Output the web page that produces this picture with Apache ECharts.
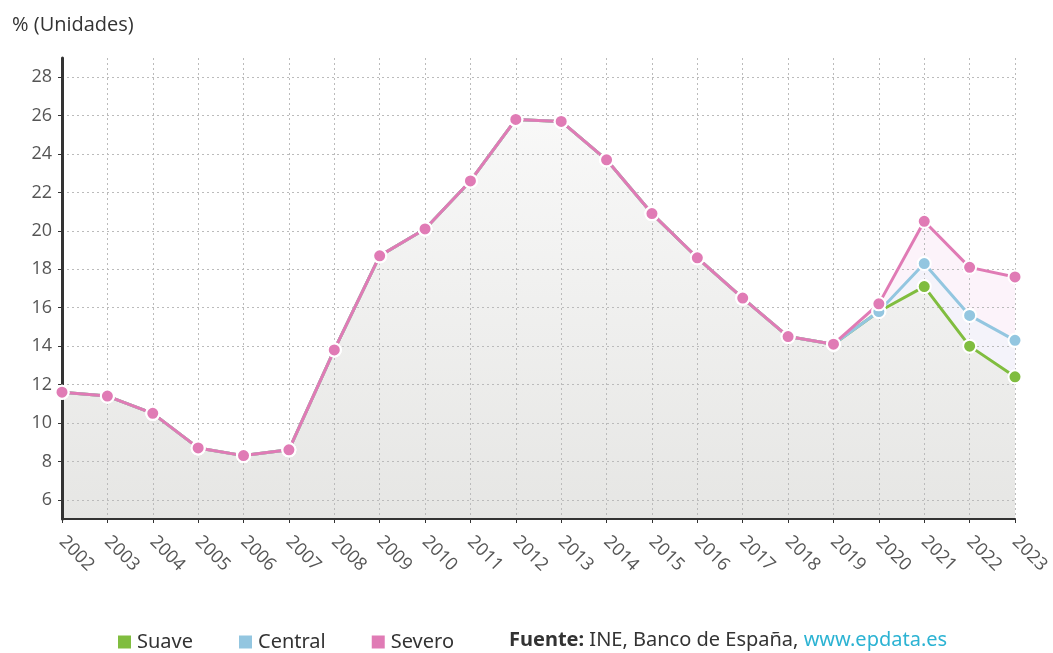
<!DOCTYPE html>
<html>
<head>
<meta charset="utf-8">
<script src="https://cdn.jsdelivr.net/npm/echarts@6/dist/echarts.min.js"></script>
<style>
html,body{margin:0;padding:0;background:#fff;}
#container{width:1053px;height:653px;}
</style>
</head>
<body>
<div id="container"></div>
<script>
var years = ['2002','2003','2004','2005','2006','2007','2008','2009','2010','2011','2012','2013','2014','2015','2016','2017','2018','2019','2020','2021','2022','2023'];
var suave = [11.6,11.4,10.5,8.7,8.3,8.6,13.8,18.7,20.1,22.6,25.8,25.7,23.7,20.9,18.6,16.5,14.5,14.1,15.8,17.1,14.0,12.4];
var central = [11.6,11.4,10.5,8.7,8.3,8.6,13.8,18.7,20.1,22.6,25.8,25.7,23.7,20.9,18.6,16.5,14.5,14.1,15.8,18.3,15.6,14.3];
var severo = [11.6,11.4,10.5,8.7,8.3,8.6,13.8,18.7,20.1,22.6,25.8,25.7,23.7,20.9,18.6,16.5,14.5,14.1,16.2,20.5,18.1,17.6];
var yTicks = [6,8,10,12,14,16,18,20,22,24,26,28];

var myChart = echarts.init(document.getElementById('container'));
var font = '"Open Sans", "Noto Sans", sans-serif';
var narrow = '"Liberation Sans Narrow", "Noto Sans", sans-serif';

// lineas (sin area)
function serie(name, data, color) {
	return {
		name: name,
		type: 'line',
		z: 3,
		data: data,
		symbol: 'circle',
		symbolSize: 13,
		lineStyle: { color: color, width: 3 },
		itemStyle: { color: color, borderColor: '#fff', borderWidth: 2 },
		emphasis: { disabled: true }
	};
}
// areas por debajo de la rejilla
function area(name, data, fill) {
	return {
		name: name,
		type: 'line',
		z: 1,
		data: data,
		symbol: 'none',
		silent: true,
		lineStyle: { width: 0 },
		areaStyle: { color: fill, opacity: 1 },
		emphasis: { disabled: true }
	};
}

var option = {
	animation: false,
	grid: { left: 62, right: 38, top: 58, bottom: 134, containLabel: false },
	legend: {
		left: 111,
		top: 627,
		itemWidth: 15,
		itemHeight: 15,
		itemGap: 44,
		icon: 'rect',
		textStyle: { fontSize: 20, color: '#333', fontFamily: narrow },
		data: ['Suave', 'Central', 'Severo']
	},
	graphic: [
		{
			type: 'text', left: 12, top: 15,
			style: { text: '% (Unidades)', fontSize: 20, fill: '#333', fontFamily: font }
		},
		{
			type: 'text', left: 509, top: 630,
			style: {
				text: '{b|Fuente:} INE, Banco de España, {l|www.epdata.es}',
				fontSize: 20, fill: '#333', fontFamily: narrow,
				rich: {
					b: { fontWeight: 'bold', fontSize: 20, fill: '#333', fontFamily: narrow },
					l: { fontSize: 20, fill: '#2cb3d3', fontFamily: narrow }
				}
			}
		}
	],
	xAxis: {
		type: 'category',
		z: 2,
		data: years,
		boundaryGap: false,
		axisLine: { lineStyle: { color: '#333', width: 2 } },
		axisTick: { show: true, length: 4, lineStyle: { color: '#333' } },
		axisLabel: { rotate: -45, fontSize: 18, color: '#555', fontFamily: font, margin: 20 },
		splitLine: { show: true, lineStyle: { color: '#bbb', type: [2, 3], width: 1 } }
	},
	yAxis: {
		type: 'value',
		z: 2,
		min: 5,
		max: 29,
		axisLine: { show: true, lineStyle: { color: '#333', width: 3 } },
		axisTick: { show: true, length: 4, customValues: yTicks, lineStyle: { color: '#333' } },
		axisLabel: { customValues: yTicks, fontSize: 18, color: '#555', fontFamily: font, margin: 10 },
		splitLine: { show: true, lineStyle: { color: '#bbb', type: [2, 3], width: 1 } }
	},
	series: [
		area('SeveroArea', severo, '#fcf3fa'),
		area('CentralArea', central, '#f4f3fa'),
		area('SuaveArea', suave, new echarts.graphic.LinearGradient(0, 58, 0, 519, [
			{ offset: 0, color: '#fbfbfb' },
			{ offset: 1, color: '#e6e6e4' }
		], true)),
		serie('Suave', suave, '#80bd3f'),
		serie('Central', central, '#93c6e0'),
		serie('Severo', severo, '#e07bb5')
	]
};
myChart.setOption(option);
</script>
</body>
</html>
